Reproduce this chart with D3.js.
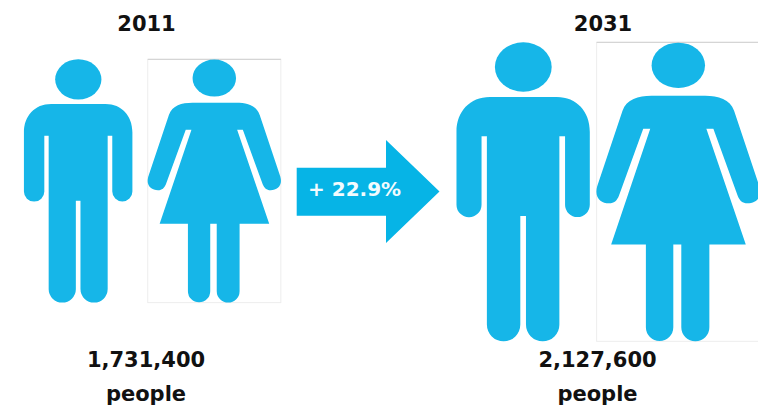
<!DOCTYPE html>
<html>
<head>
<meta charset="utf-8">
<script src="https://cdn.jsdelivr.net/npm/d3@7"></script>
<style>
  html, body { margin: 0; padding: 0; background: #fff; overflow: hidden; }
  text { font-family: "DejaVu Sans", sans-serif; font-weight: 700; }
</style>
</head>
<body>
<svg width="758" height="407">
  <defs>
    <filter id="soft" x="-5%" y="-5%" width="110%" height="110%">
      <feGaussianBlur stdDeviation="0.45"></feGaussianBlur>
    </filter>
  </defs>
</svg>
<script>
const years = ["2011", "2031"];
const population = [1731400, 2127600];
const growthPct = [22.9];
const unitLabel = ["people"];

const svg = d3.select("svg");
const blue = "#14b6e8";

// figure height follows population
const heightScale = d3.scaleLinear().domain([0, population[1]]).range([0, 299]);
const manX = d3.scaleOrdinal().domain(years).range([78.3, 523.3]);
const womanX = d3.scaleOrdinal().domain(years).range([214.3, 678.3]);
const figureTop = d3.scaleOrdinal().domain(years).range([59.3, 42.3]);
const yearX = d3.scaleOrdinal().domain(years).range([146.5, 603]);
const totalX = d3.scaleOrdinal().domain(years).range([146, 597.5]);

// glyphs are drawn in a 895 unit tall box, x = 0 at the middle
const glyphHeight = 895;
const manBody = "M-100,164 L100,164 C160,164 199,208 199,268 L199,486 A37,37 0 0 1 125,486 L125,281 L108,281 " +
  "L108,845 A50,50 0 0 1 8,845 L8,520 L-9,520 L-9,845 A50,50 0 0 1 -109,845 L-109,281 L-125,281 L-125,486 " +
  "A37,37 0 0 1 -200,486 L-200,268 C-200,208 -160,164 -100,164 Z";
const womanBody = "M-80,160 L80,160 C120,160 155,170 167,205 L243,432 C252,465 232,482 207,482 C192,482 184,474 178,460 " +
  "L105,259 L84,259 L202,605 L93,605 L93,853 A42,42 0 0 1 9,853 L9,605 L-15,605 L-15,853 A41,41 0 0 1 -97,853 L-97,605 " +
  "L-201,605 L-84,259 L-105,259 L-178,460 C-184,474 -192,482 -207,482 C-232,482 -252,465 -243,432 L-167,205 C-155,170 -120,160 -80,160 Z";

const figures = svg.selectAll("g.year")
  .data(years.map((y, i) => ({ year: y, total: population[i] })))
  .enter()
  .append("g")
  .attr("class", "year");

// pasted-in frame around the woman picture
figures.append("rect")
  .attr("x", d => womanX(d.year) - 243 * heightScale(d.total) / glyphHeight - 0.5)
  .attr("y", d => figureTop(d.year))
  .attr("width", d => 486 * heightScale(d.total) / glyphHeight + 1)
  .attr("height", d => heightScale(d.total))
  .attr("fill", "#fff")
  .attr("stroke", "#ededed");

figures.append("line")
  .attr("x1", d => womanX(d.year) - 243 * heightScale(d.total) / glyphHeight - 0.5)
  .attr("x2", d => womanX(d.year) + 243 * heightScale(d.total) / glyphHeight + 0.5)
  .attr("y1", d => figureTop(d.year))
  .attr("y2", d => figureTop(d.year))
  .attr("stroke", "#cfcfcf");

const man = figures.append("g")
  .attr("transform", d => `translate(${manX(d.year)},${figureTop(d.year)}) scale(${heightScale(d.total) / glyphHeight})`)
  .attr("fill", blue)
  .attr("filter", "url(#soft)");
man.append("ellipse").attr("cy", 74).attr("rx", 85).attr("ry", 74);
man.append("path").attr("d", manBody);

const woman = figures.append("g")
  .attr("transform", d => `translate(${womanX(d.year)},${figureTop(d.year)}) scale(${heightScale(d.total) / glyphHeight})`)
  .attr("fill", blue)
  .attr("filter", "url(#soft)");
woman.append("ellipse").attr("cy", 69).attr("rx", 80).attr("ry", 68);
woman.append("path").attr("d", womanBody);

figures.append("text")
  .attr("x", d => yearX(d.year))
  .attr("y", 31)
  .attr("text-anchor", "middle")
  .attr("font-size", 21)
  .attr("fill", "#111")
  .text(d => d.year);

figures.append("text")
  .attr("x", d => totalX(d.year))
  .attr("y", 367)
  .attr("text-anchor", "middle")
  .attr("font-size", 21)
  .attr("fill", "#111")
  .text(d => d3.format(",")(d.total));

figures.append("text")
  .attr("x", d => totalX(d.year))
  .attr("y", 401)
  .attr("text-anchor", "middle")
  .attr("font-size", 21)
  .attr("fill", "#111")
  .text(unitLabel[0]);

// growth arrow
const arrow = d3.path();
arrow.moveTo(296.7, 167.7);
arrow.lineTo(386, 167.7);
arrow.lineTo(386, 140);
arrow.lineTo(439.5, 191.5);
arrow.lineTo(386, 243);
arrow.lineTo(386, 215.7);
arrow.lineTo(296.7, 215.7);
arrow.closePath();
svg.append("path").attr("d", arrow.toString()).attr("fill", "#06b4e6");

svg.append("text")
  .attr("x", 308)
  .attr("y", 196)
  .attr("font-size", 20)
  .attr("fill", "#f2fbfe")
  .text("+ " + growthPct[0] + "%");
</script>
</body>
</html>
